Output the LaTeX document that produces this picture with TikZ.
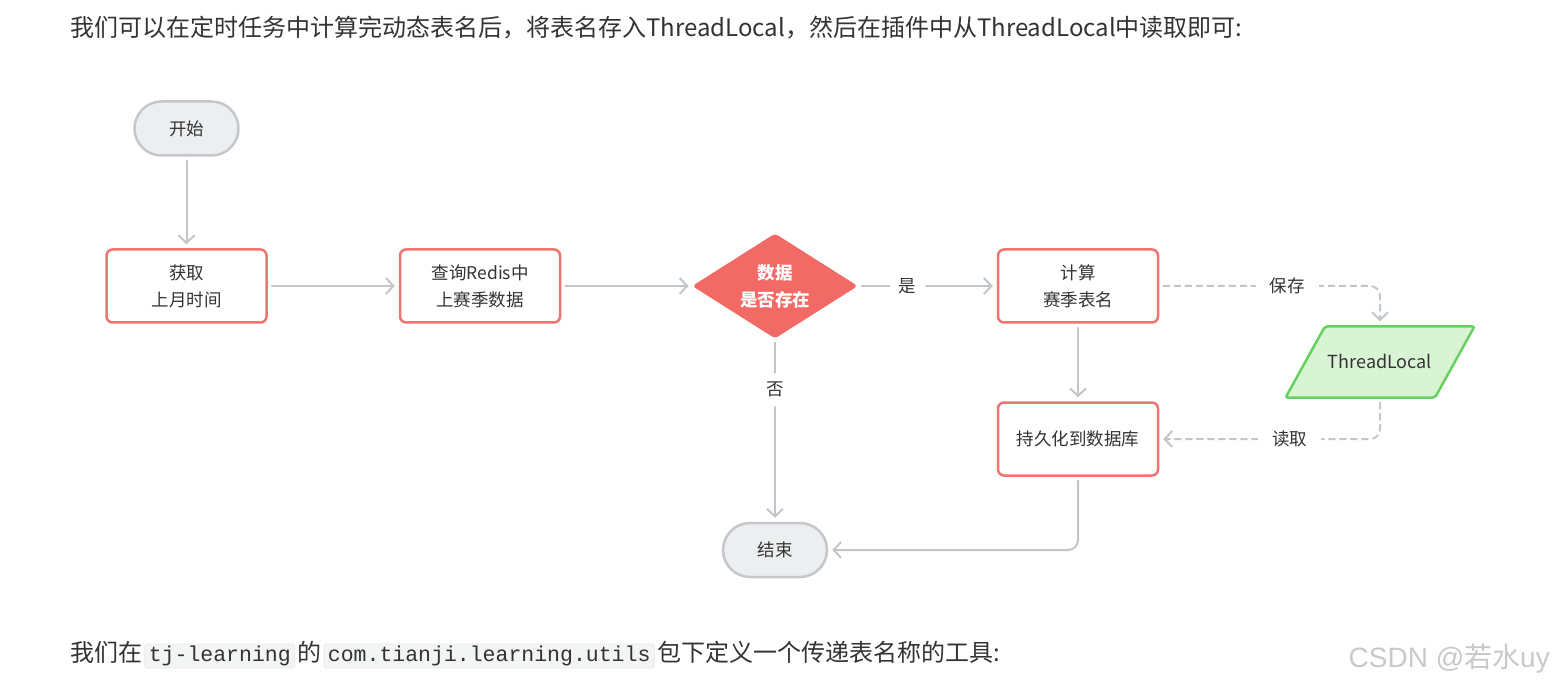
\documentclass[tikz,border=0pt]{standalone}
\usepackage{fontspec}
\setmainfont{Noto Sans CJK SC}
\setmonofont{Liberation Mono}
\newfontfamily\wmfont{Liberation Sans}
\usepackage{xcolor}
\usepackage{tikz}
\usetikzlibrary{arrows.meta, shapes.geometric}

\definecolor{txtcol}{HTML}{333333}
\definecolor{linecol}{HTML}{C2C5CA}
\definecolor{redline}{HTML}{F07470}
\definecolor{redfill}{HTML}{F26A66}
\definecolor{greenline}{HTML}{66D15F}
\definecolor{greenfill}{HTML}{D9F4D4}
\definecolor{termfill}{HTML}{EDEEF0}
\definecolor{termline}{HTML}{C5C7CB}
\definecolor{codebg}{HTML}{F3F4F4}
\definecolor{codeline}{HTML}{E8E9EB}
\definecolor{wmcol}{HTML}{C9C9C9}

\begin{document}
\begin{tikzpicture}[x=1pt, y=-1pt, line cap=round, line join=round,
	every node/.style={text=txtcol},
	para/.style={inner sep=0pt, font=\fontsize{24}{30}\selectfont},
	code/.style={fill=codebg, draw=codeline, line width=0.8pt, rounded corners=3pt,
		inner xsep=4pt, inner ysep=2pt, text height=15pt, text depth=5pt,
		font=\ttfamily\fontsize{21.5}{24}\selectfont},
	term/.style={draw=termline, fill=termfill, line width=2.5pt, rounded corners=27pt,
		minimum width=104pt, minimum height=54pt, font=\fontsize{17.5}{27}\selectfont},
	proc/.style={draw=redline, fill=white, line width=2.5pt, rounded corners=6pt,
		minimum width=160pt, minimum height=73pt, align=center,
		font=\fontsize{17.5}{27}\selectfont},
	decision/.style={diamond, fill=redfill, draw=redfill, line width=1pt, rounded corners=3pt,
		inner sep=0pt, minimum width=164pt, minimum height=104pt, aspect=1.58,
		align=center, text=white, font=\bfseries\fontsize{17.5}{27}\selectfont},
	store/.style={trapezium, trapezium left angle=61, trapezium right angle=119,
		draw=greenline, fill=greenfill, line width=2.5pt, rounded corners=2pt,
		inner xsep=3pt, inner ysep=29pt, text height=13pt, text depth=0pt,
		font=\fontsize{18}{24}\selectfont},
	conn/.style={draw=linecol, line width=2pt, -{Straight Barb[length=7.5pt,width=16pt]},
		shorten >=4pt, shorten <=4pt, rounded corners=10pt},
	dconn/.style={conn, dash pattern=on 6pt off 5pt},
	lbl/.style={fill=white, inner sep=9pt, font=\fontsize{17.5}{24}\selectfont},
]
	\fill[white] (0,0) rectangle (1555,684);
	\useasboundingbox (0,0) rectangle (1555,684);
	
	\node[para, anchor=base west] (intro) at (70,37)
		{我们可以在定时任务中计算完动态表名后，将表名存入ThreadLocal，然后在插件中从ThreadLocal中读取即可:};
	
	\node[term] (start) at (186.5,128.5) {开始};
	\node[proc] (get) at (186.5,286) {获取\\上月时间};
	\node[proc] (redis) at (480,286) {查询Redis中\\上赛季数据};
	\node[decision] (check) at (775,286) {数据\\是否存在};
	\node[proc] (calc) at (1078,286) {计算\\赛季表名};
	\node[proc] (save) at (1078,439) {持久化到数据库};
	\node[store] (local) at (1380,362) {ThreadLocal};
	\node[term] (stop) at (775,550) {结束};
	
	\draw[conn] (start) -- (get);
	\draw[conn] (get) -- (redis);
	\draw[conn] (redis) -- (check);
	\draw[conn] (check) -- node[lbl, pos=0.36]{是} (calc);
	\draw[conn] (check) -- node[lbl, pos=0.28]{否} (stop);
	\draw[conn] (calc) -- (save);
	\draw[conn] (save) |- (stop);
	\draw[dconn] (calc) -- node[lbl, inner xsep=14pt, pos=0.58]{保存} (calc -| local) -- (local);
	\draw[dconn] (local) -- (local |- save) -- node[lbl, inner xsep=14pt, pos=0.41]{读取} (save);
	
	\node[para, anchor=base west] (t1) at (70,661) {我们在};
	\node[code, anchor=base west] (c1) at ([xshift=2pt]t1.base east) {tj-learning};
	\node[para, anchor=base west] (t2) at ([xshift=2pt]c1.base east) {的};
	\node[code, anchor=base west] (c2) at ([xshift=2pt]t2.base east) {com.tianji.learning.utils};
	\node[para, anchor=base west] (t3) at ([xshift=2pt]c2.base east) {包下定义一个传递表名称的工具:};
	
	\node[anchor=base east, inner sep=0pt, text=wmcol, font=\fontsize{28}{32}\selectfont] (mark)
		at (1550,667) {{\wmfont CSDN @}若水{\wmfont uy}};
\end{tikzpicture}
\end{document}
